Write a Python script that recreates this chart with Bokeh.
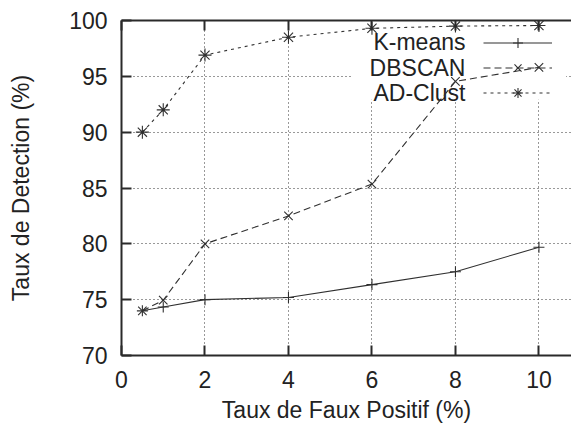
from bokeh.plotting import figure
from bokeh.models import (Range1d, FixedTicker, LinearAxis, Legend, LegendItem,
                          Label, BoxAnnotation)
from bokeh.embed import file_html
from bokeh.resources import INLINE

# ---- data ----
fpr = [0.5, 1, 2, 4, 6, 8, 10]
kmeans = [74.0, 74.35, 75.0, 75.2, 76.35, 77.5, 79.7]
dbscan = [74.0, 74.95, 80.0, 82.5, 85.35, 94.55, 95.8]
adclust = [90.0, 92.0, 96.9, 98.5, 99.3, 99.5, 99.55]
series_names = ["K-means", "DBSCAN", "AD-Clust"]
x_ticks = [0, 2, 4, 6, 8, 10]
y_ticks = [70, 75, 80, 85, 90, 95, 100]
x_title = "Taux de Faux Positif (%)"
y_title = "Taux de Detection (%)"

FONT = "Liberation Sans"
FS = "23px"
TXT = "#222222"
INK = "#2a2a2a"

p = figure(width=571, height=429, output_backend="svg", toolbar_location=None,
           x_range=Range1d(0, 10.78), y_range=Range1d(70, 100),
           min_border_left=121, min_border_right=0, min_border_top=20,
           min_border_bottom=74, outline_line_color=None,
           background_fill_color="white", border_fill_color="white")

# grid
for g in (p.xgrid, p.ygrid):
    g.grid_line_color = "#333333"
    g.grid_line_dash = "1 3"
    g.grid_line_width = 1
p.xgrid.ticker = FixedTicker(ticks=x_ticks)
p.ygrid.ticker = FixedTicker(ticks=y_ticks)

# axes
for ax in (p.xaxis[0], p.yaxis[0]):
    ax.major_tick_in = 10
    ax.major_tick_out = 0
    ax.minor_tick_line_color = None
    ax.axis_line_width = 2
    ax.axis_line_color = INK
    ax.major_tick_line_width = 2
    ax.major_tick_line_color = INK
    ax.major_label_text_font = FONT
    ax.major_label_text_font_size = FS
    ax.major_label_text_color = TXT
    ax.axis_label_text_font = FONT
    ax.axis_label_text_font_size = FS
    ax.axis_label_text_font_style = "normal"
    ax.axis_label_text_color = TXT
p.xaxis[0].ticker = FixedTicker(ticks=x_ticks)
p.yaxis[0].ticker = FixedTicker(ticks=y_ticks)
p.xaxis[0].axis_label = x_title
p.yaxis[0].axis_label = y_title
p.xaxis[0].major_label_standoff = 15
p.xaxis[0].axis_label_standoff = 6
p.yaxis[0].major_label_standoff = 14
p.yaxis[0].axis_label_standoff = 32

# mirrored ticks along the top border (no labels drawn)
top = LinearAxis(ticker=FixedTicker(ticks=x_ticks), major_tick_in=10, major_tick_out=0,
                 minor_tick_line_color=None, axis_line_width=2, axis_line_color=INK,
                 major_tick_line_width=2, major_tick_line_color=INK,
                 major_label_text_font_size="1px", major_label_text_color=None,
                 major_label_standoff=0)
p.add_layout(top, "above")

# white key background (under the data, above the grid)
key_bg = BoxAnnotation(left=5.52, right=10.65, bottom=92.9, top=99.4,
                       fill_color="white", fill_alpha=1.0, line_color=None,
                       level="underlay")
p.add_layout(key_bg)

# series
LC = "#303030"
r1 = p.line(fpr, kmeans, line_color=LC, line_width=1.1)
m1 = p.scatter(fpr, kmeans, marker="cross", size=11, line_color=LC, line_width=1.1)
r2 = p.line(fpr, dbscan, line_color=LC, line_width=1.1, line_dash="7 4")
m2 = p.scatter(fpr, dbscan, marker="x", size=12, line_color=LC, line_width=1.1)
r3 = p.line(fpr, adclust, line_color=LC, line_width=1.1, line_dash="3 4")
m3 = p.scatter(fpr, adclust, marker="asterisk", size=13, line_color=LC, line_width=1.1)

# key: text right-aligned, samples to the right (gnuplot style)
key_y = [98.03, 95.79, 93.55]
for name, ky in zip(series_names, key_y):
    p.add_layout(Label(x=8.24, y=ky, text=name, text_align="right",
                       text_baseline="middle", text_font=FONT, text_font_size=FS,
                       text_color=TXT, level="underlay"))

legend = Legend(items=[LegendItem(label=" ", renderers=[r1, m1]),
                       LegendItem(label=" ", renderers=[r2, m2]),
                       LegendItem(label=" ", renderers=[r3, m3])],
                location=(362, 250), glyph_width=69, glyph_height=25,
                spacing=0, padding=0, margin=0, label_standoff=0,
                label_width=0, label_height=10, label_text_font_size="10px",
                label_text_color=None,
                background_fill_alpha=0, border_line_color=None)
p.add_layout(legend, "center")

open("out.html", "w").write(file_html(p, INLINE))
